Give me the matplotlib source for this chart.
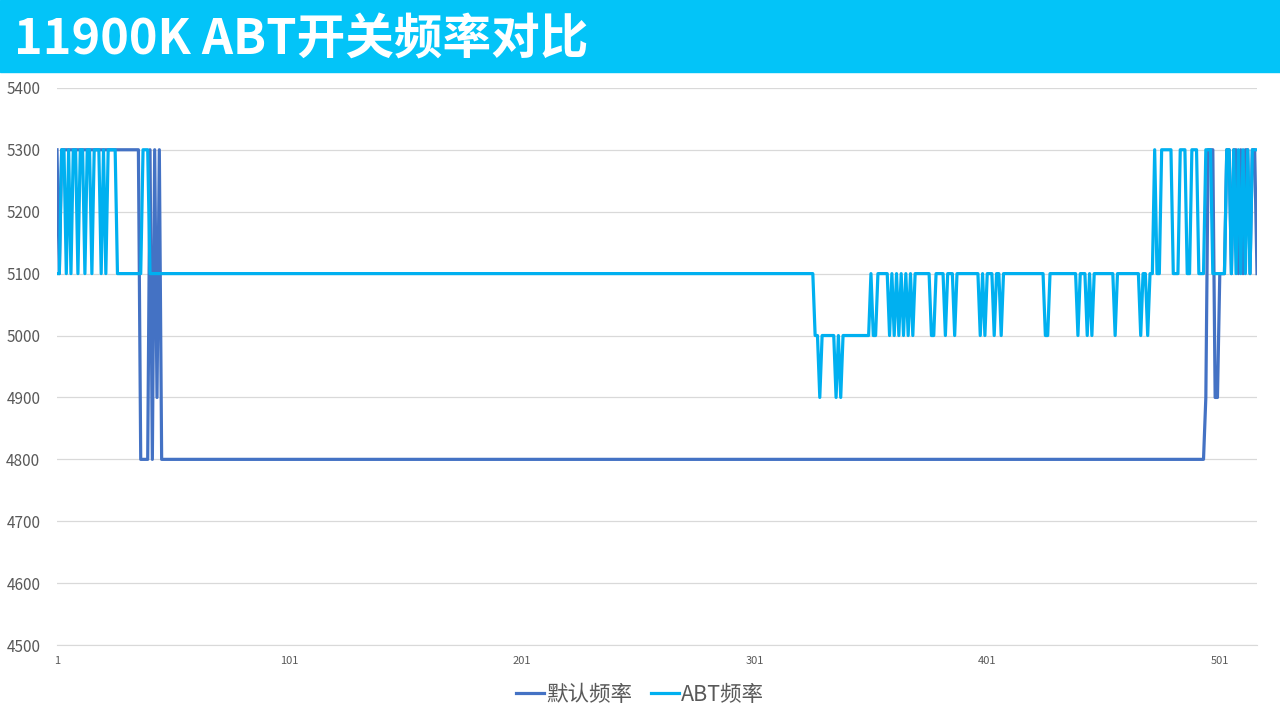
import matplotlib
matplotlib.use("Agg")
import matplotlib.pyplot as plt
import numpy as np
from matplotlib.patches import Rectangle

plt.rcParams['font.family'] = ['Noto Sans CJK SC', 'DejaVu Sans']

title = '11900K ABT开关频率对比'
series_names = ['默认频率', 'ABT频率']

# run-length data: level and number of samples at that level
default_levels = [5300, 5100, 5300, 4800, 5300, 4800, 5300, 4900, 5300, 4800,
                  4900, 5300, 4900, 5100, 5300, 5100, 5300, 5100, 5300, 5100,
                  5300, 5100, 5300, 5100]
default_counts = [1, 1, 34, 4, 1, 1, 1, 1, 1, 449,
                  1, 3, 2, 3, 2, 1, 2, 1, 1, 1,
                  2, 1, 2, 1]

abt_levels = [5100, 5300, 5100, 5300, 5100, 5300, 5100, 5300, 5100, 5300,
              5100, 5300, 5100, 5300, 5100, 5300, 5100, 5300, 5100, 5000,
              4900, 5000, 4900, 5000, 4900, 5000, 5100, 5000, 5100, 5000,
              5100, 5000, 5100, 5000, 5100, 5000, 5100, 5000, 5100, 5000,
              5100, 5000, 5100, 5000, 5100, 5000, 5100, 5000, 5100, 5000,
              5100, 5000, 5100, 5000, 5100, 5000, 5100, 5000, 5100, 5000,
              5100, 5000, 5100, 5000, 5100, 5000, 5100, 5000, 5100, 5300,
              5100, 5300, 5100, 5300, 5100, 5300, 5100, 5300, 5100, 5300,
              5100, 5300, 5100, 5300, 5100, 5300, 5100, 5300, 5100, 5300]
abt_counts = [2, 2, 1, 1, 1, 2, 1, 2, 1, 2,
              1, 3, 1, 1, 1, 4, 11, 3, 286, 2,
              1, 6, 1, 1, 1, 12, 1, 2, 5, 1,
              1, 1, 1, 1, 1, 1, 1, 1, 1, 1,
              7, 2, 4, 1, 3, 1, 10, 1, 1, 1,
              3, 1, 2, 1, 18, 2, 12, 1, 3, 1,
              1, 1, 9, 1, 10, 1, 2, 1, 2, 1,
              2, 5, 3, 3, 2, 3, 3, 3, 6, 2,
              1, 1, 1, 1, 1, 1, 1, 1, 1, 3]

default_freq = np.repeat(default_levels, default_counts)
abt_freq = np.repeat(abt_levels, abt_counts)
x = np.arange(1, len(default_freq) + 1)

fig = plt.figure(figsize=(12.8, 7.2), dpi=100)
fig.patches.append(Rectangle((0, 1 - 72 / 720), 1, 72 / 720, transform=fig.transFigure,
                             color='#03C4F8', zorder=0))
fig.text(0.011, 1 - 40 / 720, title, color='white', fontsize=35, fontweight='bold',
         va='center', ha='left')

ax = fig.add_axes([57 / 1280, 0.104, 1200 / 1280, 0.774])
ax.plot(x, default_freq, color='#4472C4', lw=2.3, label=series_names[0])
ax.plot(x, abt_freq, color='#00B0F0', lw=2.3, label=series_names[1])

ax.set_xlim(1, len(x))
ax.set_ylim(4500, 5400)
ax.set_yticks(np.arange(4500, 5401, 100))
ax.set_xticks([1, 101, 201, 301, 401, 501])
ax.grid(axis='y', color='#D9D9D9', lw=0.9)
ax.set_axisbelow(True)
for s in ['top', 'right', 'left']:
    ax.spines[s].set_visible(False)
ax.spines['bottom'].set_color('#D9D9D9')
ax.tick_params(axis='y', length=0, labelsize=11, labelcolor='#595959', pad=12)
ax.tick_params(axis='x', length=0, labelsize=8, labelcolor='#595959', pad=8)

fig.legend(loc='center', bbox_to_anchor=(0.5, 1 - 695 / 720), ncol=2, frameon=False,
           fontsize=15.5, labelcolor='#595959', handlelength=1.3, handletextpad=0.1,
           columnspacing=0.9)

fig.savefig('out.png', dpi=100)
